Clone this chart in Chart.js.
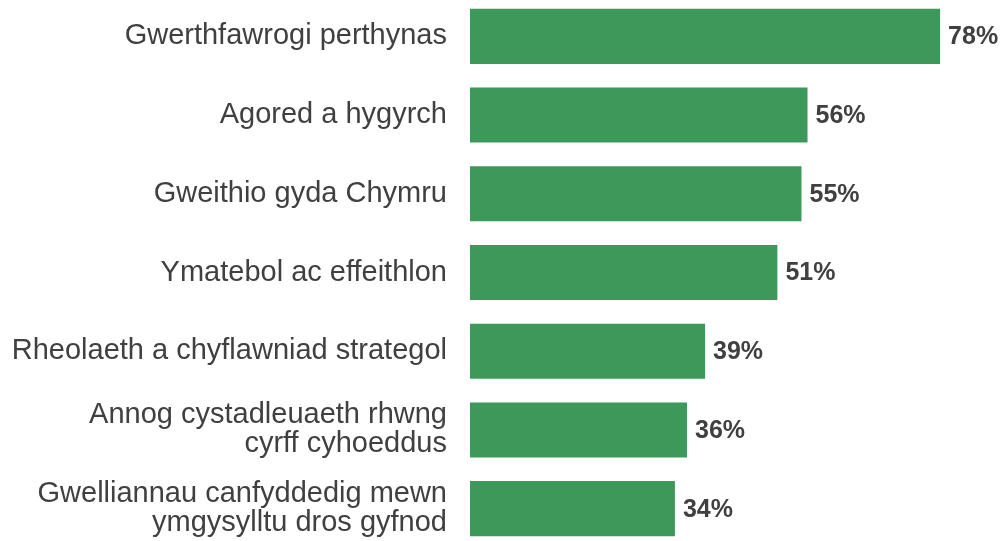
<!DOCTYPE html>
<html>
<head>
<meta charset="utf-8">
<script src="https://cdn.jsdelivr.net/npm/chart.js@4"></script>
<style>
  html, body { margin: 0; padding: 0; background: #fff; overflow: hidden; }
  #wrap { position: absolute; left: 0; top: -3px; width: 1004px; height: 551px; }
</style>
</head>
<body>
<div id="wrap"><canvas id="chart"></canvas></div>
<script>
// categories (multi-line ones split into arrays)
const categories = [
  'Gwerthfawrogi perthynas',
  'Agored a hygyrch',
  'Gweithio gyda Chymru',
  'Ymatebol ac effeithlon',
  'Rheolaeth a chyflawniad strategol',
  ['Annog cystadleuaeth rhwng', 'cyrff cyhoeddus'],
  ['Gwelliannau canfyddedig mewn', 'ymgysylltu dros gyfnod']
];
const percentages = [78, 56, 55, 51, 39, 36, 34];

const barColor = '#3d995a';
const textColor = '#404040';

// draws the "78%" labels at the end of each bar
const valueLabels = {
  id: 'valueLabels',
  afterDatasetsDraw(chart) {
    const ctx = chart.ctx;
    const meta = chart.getDatasetMeta(0);
    ctx.save();
    ctx.font = 'bold 25px "Liberation Sans", Arial, sans-serif';
    ctx.fillStyle = textColor;
    ctx.textAlign = 'left';
    ctx.textBaseline = 'middle';
    meta.data.forEach((bar, i) => {
      ctx.fillText(percentages[i] + '%', bar.x + 8, bar.y + 1);
    });
    ctx.restore();
  }
};

new Chart(document.getElementById('chart'), {
  type: 'bar',
  data: {
    labels: categories,
    datasets: [{
      data: percentages,
      backgroundColor: barColor,
      borderWidth: 0,
      barPercentage: 0.7,
      categoryPercentage: 1
    }]
  },
  options: {
    indexAxis: 'y',
    responsive: true,
    maintainAspectRatio: false,
    animation: false,
    layout: { padding: 0 },
    plugins: {
      legend: { display: false },
      tooltip: { enabled: false }
    },
    scales: {
      x: {
        display: false,
        min: 0,
        max: 88.6
      },
      y: {
        grid: { display: false },
        border: { display: false },
        ticks: {
          color: textColor,
          padding: 15,
          font: { family: '"Liberation Sans", Arial, sans-serif', size: 29, lineHeight: 1.0 }
        },
        afterFit(scale) {
          scale.width = 470;
          scale.paddingTop = 0;
          scale.paddingBottom = 0;
        }
      }
    }
  },
  plugins: [valueLabels]
});
</script>
</body>
</html>
